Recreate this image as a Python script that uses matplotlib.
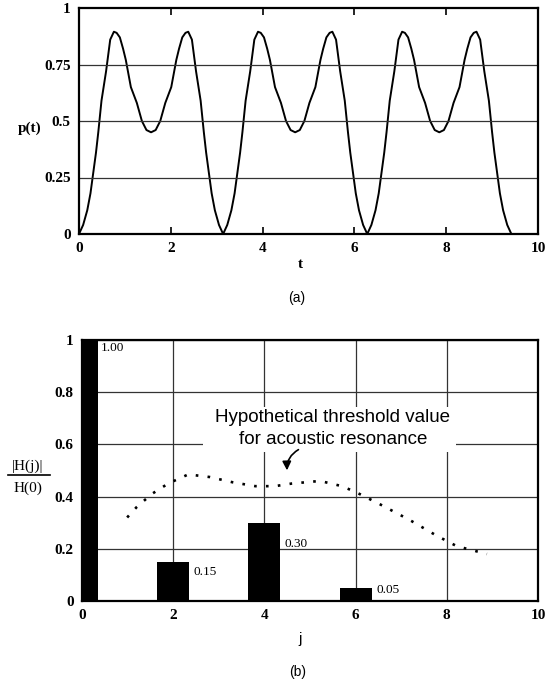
import numpy as np
import matplotlib.pyplot as plt
from matplotlib.patches import Rectangle

# ---- data ----
# (a) p(t), one sample list across the whole plotted range
t_vals = [0.00, 0.09, 0.18, 0.25, 0.31, 0.37, 0.42, 0.49, 0.59, 0.68, 0.76, 0.82, 0.89, 0.96,
          1.02, 1.13, 1.26, 1.37, 1.47, 1.57, 1.67, 1.77, 1.88, 2.01, 2.12, 2.18, 2.25, 2.32,
          2.38, 2.46, 2.55, 2.65, 2.72, 2.77, 2.83, 2.89, 2.96, 3.05, 3.14,
          3.23, 3.32, 3.39, 3.45, 3.51, 3.56, 3.63, 3.73, 3.82, 3.90, 3.96, 4.03, 4.10, 4.16,
          4.27, 4.40, 4.51, 4.61, 4.71, 4.81, 4.91, 5.02, 5.15, 5.26, 5.32, 5.39, 5.46, 5.52,
          5.60, 5.69, 5.79, 5.86, 5.91, 5.97, 6.03, 6.10, 6.19, 6.28,
          6.37, 6.46, 6.53, 6.59, 6.65, 6.70, 6.77, 6.87, 6.96, 7.04, 7.10, 7.17, 7.24, 7.30,
          7.41, 7.54, 7.65, 7.75, 7.85, 7.95, 8.05, 8.16, 8.29, 8.40, 8.46, 8.53, 8.60, 8.66,
          8.74, 8.83, 8.93, 9.00, 9.05, 9.11, 9.17, 9.24, 9.33, 9.42]
p_vals = [0.00, 0.04, 0.105, 0.18, 0.27, 0.36, 0.45, 0.59, 0.72, 0.86, 0.895, 0.89, 0.87, 0.82,
          0.77, 0.65, 0.58, 0.50, 0.46, 0.45, 0.46, 0.50, 0.58, 0.65, 0.77, 0.82, 0.87, 0.89,
          0.895, 0.86, 0.72, 0.59, 0.45, 0.36, 0.27, 0.18, 0.105, 0.04, 0.00,
          0.04, 0.105, 0.18, 0.27, 0.36, 0.45, 0.59, 0.72, 0.86, 0.895, 0.89, 0.87, 0.82, 0.77,
          0.65, 0.58, 0.50, 0.46, 0.45, 0.46, 0.50, 0.58, 0.65, 0.77, 0.82, 0.87, 0.89, 0.895,
          0.86, 0.72, 0.59, 0.45, 0.36, 0.27, 0.18, 0.105, 0.04, 0.00,
          0.04, 0.105, 0.18, 0.27, 0.36, 0.45, 0.59, 0.72, 0.86, 0.895, 0.89, 0.87, 0.82, 0.77,
          0.65, 0.58, 0.50, 0.46, 0.45, 0.46, 0.50, 0.58, 0.65, 0.77, 0.82, 0.87, 0.89, 0.895,
          0.86, 0.72, 0.59, 0.45, 0.36, 0.27, 0.18, 0.105, 0.04, 0.00]

# (b) normalised harmonic amplitudes
j_vals = [0, 1, 2, 3, 4, 5, 6, 7, 8, 9]
h_vals = [1.00, 0.0, 0.15, 0.004, 0.30, 0.0, 0.05, 0.0, 0.004, 0.0]
bar_labels = ["1.00", "", "0.15", "", "0.30", "", "0.05", "", "", ""]

# (b) hypothetical threshold curve
thr_j = [0.99, 1.2, 1.53, 1.89, 2.33, 2.8, 3.3, 3.8, 4.23, 4.6, 5.22, 5.7, 6.03, 6.54,
         7.19, 7.78, 8.22, 8.88]
thr_h = [0.32, 0.36, 0.41, 0.45, 0.485, 0.475, 0.455, 0.44, 0.44, 0.45, 0.46, 0.44, 0.415,
         0.37, 0.31, 0.25, 0.21, 0.18]

serif = "Liberation Serif"
sans = "Liberation Sans"
grid_c = "#333333"

fig = plt.figure(figsize=(5.54, 6.8), dpi=100)

# ---------------- (a) ----------------
ax1 = fig.add_axes([79 / 554, 1 - 234 / 680, (538 - 79) / 554, (234 - 8) / 680])
ax1.plot(t_vals, p_vals, color="black", lw=1.4)
ax1.set_xlim(0, 10)
ax1.set_ylim(0, 1)
ax1.set_xticks([0, 2, 4, 6, 8, 10])
ax1.set_yticks([0, 0.25, 0.5, 0.75, 1])
ax1.set_yticklabels(["0", "0.25", "0.5", "0.75", "1"])
for y in [0.25, 0.5, 0.75]:
    ax1.axhline(y, color=grid_c, lw=0.9)
ax1.tick_params(direction="in", length=5, top=True, left=False, width=1.2, pad=6)

# ---------------- (b) ----------------
ax2 = fig.add_axes([82 / 554, 1 - 601 / 680, (538 - 82) / 554, (601 - 340) / 680])
ax2.bar(j_vals, h_vals, width=0.7, color="black", zorder=3)
ax2.plot(thr_j, thr_h, color="black", lw=1.9, linestyle=(0, (1, 3.5)), zorder=4)
ax2.set_xlim(0, 10)
ax2.set_ylim(0, 1)
ax2.set_xticks([0, 2, 4, 6, 8, 10])
ax2.set_yticks([0, 0.2, 0.4, 0.6, 0.8, 1])
ax2.set_yticklabels(["0", "0.2", "0.4", "0.6", "0.8", "1"])
ax2.grid(True, color=grid_c, lw=0.9)
ax2.tick_params(direction="in", length=0, pad=6)

# bar value labels, placed just right of each bar
for j, h, lab in zip(j_vals, h_vals, bar_labels):
    if not lab:
        continue
    if j == 0:
        ax2.text(0.42, 0.97, lab, fontsize=9.5, family=serif, va="center", ha="left", zorder=5)
    else:
        ax2.text(j + 0.45, h - 0.3 * h + 0.008, lab, fontsize=9.5, family=serif,
                 va="center", ha="left", zorder=5)

# white patch behind the annotation text (grid is broken there)
ax2.add_patch(Rectangle((2.65, 0.57), 8.2 - 2.65, 0.745 - 0.57, facecolor="white",
                        edgecolor="none", zorder=2))
ax2.text(5.5, 0.704, "Hypothetical threshold value", family=sans, fontsize=13.5,
         ha="center", va="center", zorder=5)
ax2.text(5.5, 0.617, "for acoustic resonance", family=sans, fontsize=13.5,
         ha="center", va="center", zorder=5)
ax2.annotate("", xy=(4.5, 0.49), xytext=(4.8, 0.585),
             arrowprops=dict(arrowstyle="-|>", color="black", lw=1.2,
                             connectionstyle="arc3,rad=0.35", mutation_scale=13),
             zorder=5)

for ax in (ax1, ax2):
    for s in ax.spines.values():
        s.set_linewidth(1.6)
    for lab in ax.get_xticklabels() + ax.get_yticklabels():
        lab.set_family(serif)
        lab.set_fontsize(11)
        lab.set_fontweight("bold")

# axis labels and panel captions
fig.text(30 / 554, 1 - 128 / 680, "p(t)", family=serif, fontsize=11, fontweight="bold",
         ha="center", va="center")
fig.text(300 / 554, 1 - 265 / 680, "t", family=serif, fontsize=11, fontweight="bold",
         ha="center", va="center")
fig.text(297 / 554, 1 - 298 / 680, "(a)", family=sans, fontsize=10, ha="center", va="center")

fig.text(28 / 554, 1 - 466 / 680, "|H(j)|", family=serif, fontsize=11,
         ha="center", va="center")
fig.add_artist(plt.Line2D([8 / 554, 50 / 554], [1 - 475 / 680, 1 - 475 / 680],
                          color="black", lw=1.2))
fig.text(28 / 554, 1 - 488 / 680, "H(0)", family=serif, fontsize=11,
         ha="center", va="center")
fig.text(300 / 554, 1 - 639 / 680, "j", family=sans, fontsize=11, ha="center", va="center")
fig.text(298 / 554, 1 - 672 / 680, "(b)", family=sans, fontsize=10, ha="center", va="center")

fig.savefig("out.png", dpi=100)
